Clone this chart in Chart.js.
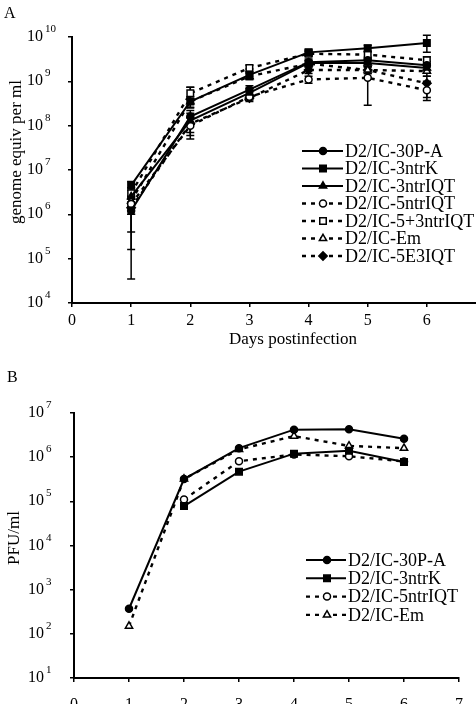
<!DOCTYPE html>
<html>
<head>
<meta charset="utf-8">
<script src="https://cdn.jsdelivr.net/npm/chart.js@4.4.1/dist/chart.umd.min.js"></script>
<style>
	html, body { margin: 0; padding: 0; background: #fff; overflow: hidden; width: 476px; height: 704px; }
	canvas { position: absolute; left: 0; }
	#chartA { top: 0; }
	#chartB { top: 355px; }
</style>
</head>
<body>
<canvas id="chartA" width="500" height="350"></canvas>
<canvas id="chartB" width="476" height="360"></canvas>
<script>
const days = [1, 2, 3, 4, 5, 6];
const dayTicks = [0, 1, 2, 3, 4, 5, 6, 7];
const genomeTicks = [1e4, 1e5, 1e6, 1e7, 1e8, 1e9, 1e10];
const pfuTicks = [1e1, 1e2, 1e3, 1e4, 1e5, 1e6, 1e7];

// panel A: genome equiv per ml (mean, low and high error bar ends)
const g30PA = [1.2e6, 1.6e8, 6.5e8, 2.7e9, 3.0e9, 2.3e9];
const g30PALo = [3.5e4, 1.1e8, 4.5e8, 2.3e9, 2.5e9, 1.8e9];
const g30PAHi = [2.5e6, 2.2e8, 8.0e8, 3.2e9, 3.5e9, 2.8e9];

const g3ntrK = [4.5e6, 3.5e8, 1.4e9, 4.5e9, 5.6e9, 7.3e9];
const g3ntrKLo = [1.6e5, 2.5e8, 1.1e9, 3.8e9, 4.6e9, 4.5e9];
const g3ntrKHi = [5.5e6, 7.4e8, 1.9e9, 5.2e9, 6.5e9, 1.1e10];

const g3ntrIQT = [2.5e6, 1.3e8, 5.5e8, 2.6e9, 2.6e9, 2.0e9];
const g3ntrIQTLo = [4.0e5, 5.0e7, 4.0e8, 2.2e9, 2.1e9, 1.6e9];
const g3ntrIQTHi = [3.5e6, 1.9e8, 7.0e8, 3.0e9, 3.2e9, 2.5e9];

const g5ntrIQT = [1.7e6, 1.0e8, 4.5e8, 1.1e9, 1.2e9, 6.3e8];
const g5ntrIQTLo = [1.0e6, 7.0e7, 3.8e8, 9.0e8, 2.9e8, 3.7e8];
const g5ntrIQTHi = [2.4e6, 1.5e8, 5.5e8, 1.3e9, 2.2e9, 1.0e9];

const g53ntrIQT = [3.0e6, 5.4e8, 2.0e9, 4.2e9, 4.0e9, 3.0e9];
const g53ntrIQTLo = [2.2e6, 4.0e8, 1.6e9, 3.7e9, 3.2e9, 2.4e9];
const g53ntrIQTHi = [4.0e6, 7.4e8, 2.3e9, 4.8e9, 4.8e9, 3.6e9];

const gEm = [2.0e6, 3.5e8, 1.3e9, 2.5e9, 1.8e9, 1.7e9];
const gEmLo = [1.5e6, 2.6e8, 1.1e9, 2.1e9, 1.5e9, 1.3e9];
const gEmHi = [2.6e6, 4.5e8, 1.5e9, 2.9e9, 2.2e9, 2.1e9];

const g5E3IQT = [1.4e6, 1.1e8, 4.2e8, 1.8e9, 1.8e9, 9.0e8];
const g5E3IQTLo = [1.0e6, 6.0e7, 3.5e8, 1.5e9, 1.5e9, 4.3e8];
const g5E3IQTHi = [1.9e6, 1.5e8, 5.0e8, 2.1e9, 2.1e9, 1.3e9];

// panel B: PFU/ml
const p30PA = [3.7e2, 3.2e5, 1.6e6, 4.2e6, 4.3e6, 2.6e6];
const p3ntrK = [null, 7.8e4, 4.7e5, 1.2e6, 1.4e6, 7.8e5];
const p5ntrIQT = [null, 1.1e5, 8.1e5, 1.15e6, 1.05e6, 8.0e5];
const pEm = [1.5e2, 3.2e5, 1.5e6, 3.0e6, 1.8e6, 1.6e6];

const SERIF = '"Liberation Serif", "Times New Roman", serif';

const looks = {
	"D2/IC-30P-A": { style: "circle", r: 3.5, open: false, dash: false },
	"D2/IC-3ntrK": { style: "rect", r: 4.6, open: false, dash: false },
	"D2/IC-3ntrIQT": { style: "triangle", r: 4.2, open: false, dash: false },
	"D2/IC-5ntrIQT": { style: "circle", r: 3.5, open: true, dash: true },
	"D2/IC-5+3ntrIQT": { style: "rect", r: 4.6, open: true, dash: true },
	"D2/IC-Em": { style: "triangle", r: 4.2, open: true, dash: true },
	"D2/IC-5E3IQT": { style: "rectRot", r: 4.2, open: false, dash: true }
};

function series(label, values, lo, hi) {
	const look = looks[label];
	return {
		label: label,
		data: days.map((d, i) => ({ x: d, y: values[i] })),
		errLo: lo || null,
		errHi: hi || null,
		borderColor: "#000",
		borderWidth: look.dash ? 2.4 : 2,
		borderDash: look.dash ? [4, 5] : [],
		pointStyle: look.style,
		pointRadius: look.r,
		pointBackgroundColor: look.open ? "#fff" : "#000",
		pointBorderColor: "#000",
		pointBorderWidth: 1.5,
		tension: 0,
		spanGaps: false
	};
}

const errorBars = {
	id: "errorBars",
	beforeDatasetsDraw(chart) {
		const { ctx, scales: { x, y } } = chart;
		ctx.save();
		ctx.strokeStyle = "#000";
		ctx.lineWidth = 1.5;
		ctx.setLineDash([]);
		chart.data.datasets.forEach(ds => {
			if (!ds.errLo) return;
			ds.data.forEach((p, i) => {
				const lo = ds.errLo[i], hi = ds.errHi[i];
				if (lo == null || hi == null) return;
				const px = x.getPixelForValue(p.x);
				const y1 = y.getPixelForValue(lo);
				const y2 = y.getPixelForValue(hi);
				ctx.beginPath();
				ctx.moveTo(px, y1); ctx.lineTo(px, y2);
				ctx.moveTo(px - 4, y1); ctx.lineTo(px + 4, y1);
				ctx.moveTo(px - 4, y2); ctx.lineTo(px + 4, y2);
				ctx.stroke();
			});
		});
		ctx.restore();
	}
};

function lineLegend(id, pos) {
	return {
		id: id,
		afterDraw(chart) {
			const ctx = chart.ctx;
			ctx.save();
			chart.data.datasets.forEach((ds, i) => {
				const yy = pos.top + i * pos.step;
				ctx.strokeStyle = "#000";
				ctx.lineWidth = ds.borderWidth;
				ctx.setLineDash(ds.borderDash);
				ctx.beginPath();
				ctx.moveTo(pos.x0, yy);
				ctx.lineTo(pos.x1, yy);
				ctx.stroke();
				ctx.setLineDash([]);
				ctx.fillStyle = ds.pointBackgroundColor;
				ctx.lineWidth = ds.pointBorderWidth;
				Chart.helpers.drawPoint(ctx, {
					pointStyle: ds.pointStyle,
					radius: ds.pointRadius,
					borderWidth: ds.pointBorderWidth,
					rotation: 0
				}, pos.mx, yy);
				ctx.fillStyle = "#000";
				ctx.font = "18px " + SERIF;
				ctx.textAlign = "left";
				ctx.textBaseline = "middle";
				ctx.fillText(ds.label, pos.tx, yy + 1);
			});
			ctx.restore();
		}
	};
}

function powerLabels(id, lx) {
	return {
		id: id,
		afterDraw(chart) {
			const ctx = chart.ctx;
			const y = chart.scales.y;
			ctx.save();
			ctx.fillStyle = "#000";
			ctx.textAlign = "left";
			ctx.textBaseline = "alphabetic";
			y.ticks.forEach(t => {
				const py = y.getPixelForValue(t.value);
				ctx.font = "16px " + SERIF;
				ctx.fillText("10", lx, py + 4);
				const w = ctx.measureText("10").width;
				ctx.font = "11px " + SERIF;
				ctx.fillText(String(Math.round(Math.log10(t.value))), lx + w + 2, py - 5);
			});
			ctx.restore();
		}
	};
}

function texts(id, items) {
	return {
		id: id,
		afterDraw(chart) {
			const ctx = chart.ctx;
			ctx.save();
			ctx.fillStyle = "#000";
			items.forEach(it => {
				ctx.save();
				ctx.translate(it.x, it.y);
				if (it.rot) ctx.rotate(it.rot);
				ctx.font = it.size + "px " + SERIF;
				ctx.textAlign = it.align || "center";
				ctx.textBaseline = "middle";
				ctx.fillText(it.text, 0, 0);
				ctx.restore();
			});
			ctx.restore();
		}
	};
}

function axes(yTicks, yMin, yMax, yWidth, xHeight, xPad) {
	return {
		x: {
			type: "linear",
			min: 0,
			max: 7,
			afterBuildTicks: s => { s.ticks = dayTicks.map(v => ({ value: v })); },
			afterFit: s => { s.height = xHeight; },
			border: { display: true, color: "#000", width: 2 },
			grid: { drawOnChartArea: false, drawTicks: true, tickLength: 4, color: "#000", lineWidth: 1.5 },
			ticks: { color: "#000", font: { family: SERIF, size: 16 }, padding: xPad, maxRotation: 0 }
		},
		y: {
			type: "logarithmic",
			min: yMin,
			max: yMax,
			afterBuildTicks: s => { s.ticks = yTicks.map(v => ({ value: v })); },
			afterFit: s => { s.width = yWidth; },
			border: { display: true, color: "#000", width: 2 },
			grid: { drawOnChartArea: false, drawTicks: true, tickLength: 4, color: "#000", lineWidth: 1.5 },
			ticks: { display: false }
		}
	};
}

new Chart(document.getElementById("chartA"), {
	type: "line",
	data: {
		datasets: [
			series("D2/IC-30P-A", g30PA, g30PALo, g30PAHi),
			series("D2/IC-3ntrK", g3ntrK, g3ntrKLo, g3ntrKHi),
			series("D2/IC-3ntrIQT", g3ntrIQT, g3ntrIQTLo, g3ntrIQTHi),
			series("D2/IC-5ntrIQT", g5ntrIQT, g5ntrIQTLo, g5ntrIQTHi),
			series("D2/IC-5+3ntrIQT", g53ntrIQT, g53ntrIQTLo, g53ntrIQTHi),
			series("D2/IC-Em", gEm, gEmLo, gEmHi),
			series("D2/IC-5E3IQT", g5E3IQT, g5E3IQTLo, g5E3IQTHi)
		]
	},
	options: {
		responsive: false,
		animation: false,
		layout: { padding: { left: 0, top: 37, right: 14, bottom: 0 } },
		plugins: { legend: { display: false }, tooltip: { enabled: false } },
		scales: axes(genomeTicks, 1e4, 1e10, 72, 47, 4)
	},
	plugins: [
		errorBars,
		lineLegend("legendA", { x0: 302, x1: 343, mx: 323, tx: 345, top: 151, step: 17.5 }),
		powerLabels("powA", 27),
		texts("textA", [
			{ text: "A", x: 4, y: 14, size: 16, align: "left" },
			{ text: "genome equiv per ml", x: 17, y: 152, size: 17, rot: -Math.PI / 2 },
			{ text: "Days postinfection", x: 293, y: 340, size: 17 }
		])
	]
});

new Chart(document.getElementById("chartB"), {
	type: "line",
	data: {
		datasets: [
			series("D2/IC-30P-A", p30PA),
			series("D2/IC-3ntrK", p3ntrK),
			series("D2/IC-5ntrIQT", p5ntrIQT),
			series("D2/IC-Em", pEm)
		]
	},
	options: {
		responsive: false,
		animation: false,
		layout: { padding: { left: 0, top: 58, right: 11, bottom: 0 } },
		plugins: { legend: { display: false }, tooltip: { enabled: false } },
		scales: axes(pfuTicks, 1e1, 1e7, 74, 37, 13)
	},
	plugins: [
		lineLegend("legendB", { x0: 306, x1: 346, mx: 327, tx: 348, top: 205, step: 18.3 }),
		powerLabels("powB", 28),
		texts("textB", [
			{ text: "B", x: 7, y: 23, size: 16, align: "left" },
			{ text: "PFU/ml", x: 15, y: 183, size: 17, rot: -Math.PI / 2 }
		])
	]
});
</script>
</body>
</html>
